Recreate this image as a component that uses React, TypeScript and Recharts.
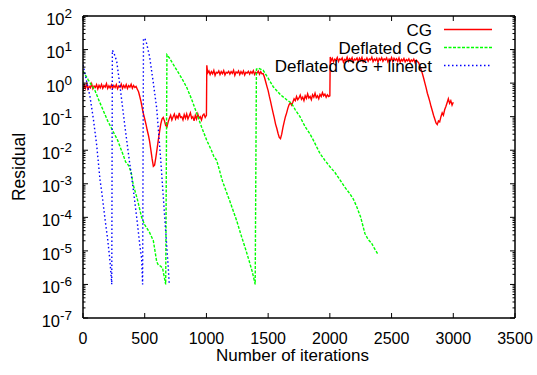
import React from 'react';
import { LineChart, Line, XAxis, YAxis, Legend } from 'recharts';

const FONT = '"Liberation Sans", Arial, Helvetica, sans-serif';

const xTicks = [0, 500, 1000, 1500, 2000, 2500, 3000, 3500];
const yMajorExponents = [-7, -6, -5, -4, -3, -2, -1, 0, 1, 2];
const yMinorMultipliers = [2, 3, 4, 5, 6, 7, 8, 9];

const seriesNames = ['CG', 'Deflated CG', 'Deflated CG + linelet'];
const seriesColors = ['#ff0000', '#00ff00', '#0000ff'];
const seriesDashes = ['', '3 1.5', '1.5 2.5'];

type Run = { start: number; step: number; values: number[] };

// CG (red): runs of residuals sampled every 10 iterations, plus the jump points
const cgRun1: Run = {
  start: 0, step: 10, values: [
    0.62, 0.88, 0.7, 0.93, 0.66, 0.8, 0.72, 0.95, 0.68, 0.82,
    0.74, 0.9, 0.67, 0.86, 0.73, 0.92, 0.7, 0.84, 0.76, 0.96,
    0.69, 0.83, 0.72, 0.88, 0.7, 0.85, 0.74, 0.9, 0.68, 0.82,
    0.75, 0.93, 0.7, 0.86, 0.73, 0.9, 0.69, 0.84, 0.76, 0.92,
    0.7, 0.85, 0.74, 0.8, 0.66,
  ],
};
const cgRun2: Run = {
  start: 450, step: 10, values: [
    0.55, 0.4, 0.28, 0.18, 0.12,
    0.085, 0.06, 0.04, 0.028, 0.018, 0.01, 0.0055, 0.0033, 0.0036, 0.006,
    0.011, 0.02, 0.035, 0.06, 0.085, 0.095, 0.075, 0.055, 0.05, 0.07,
    0.09, 0.11, 0.08, 0.1, 0.12, 0.085, 0.105, 0.09, 0.13, 0.095,
    0.1, 0.08, 0.115, 0.09, 0.12, 0.085, 0.105, 0.13, 0.09, 0.1,
    0.075, 0.11, 0.085, 0.12, 0.09, 0.1, 0.08, 0.11, 0.12, 0.095,
  ],
};
const cgJump1: [number, number][] = [[1000, 0.11], [1003, 3.4]];
const cgRun3: Run = {
  start: 1010, step: 10, values: [
    2.0, 2.3, 1.8, 2.2, 1.9, 2.4, 1.7, 2.1, 2.0, 2.3,
    1.8, 2.2, 1.9, 2.35, 1.75, 2.1, 2.0, 2.25, 1.85, 2.2,
    1.95, 2.4, 1.7, 2.15, 2.0, 2.3, 1.8, 2.2, 1.9, 2.3,
    1.75, 2.1, 2.0, 2.25, 1.85, 2.2, 1.95, 2.35, 1.8, 2.1,
    2.0, 2.3, 1.85, 2.2, 1.9,
  ],
};
const cgRun4: Run = {
  start: 1460, step: 10, values: [
    1.9, 1.5, 1.1, 0.8, 0.6, 0.4, 0.28, 0.19, 0.13, 0.09,
    0.06, 0.045, 0.032, 0.024, 0.022, 0.03, 0.048, 0.07, 0.1, 0.13,
    0.18, 0.23, 0.26, 0.22, 0.27, 0.34, 0.3, 0.4, 0.32, 0.36,
    0.44, 0.33, 0.38, 0.3, 0.42, 0.35, 0.48, 0.36, 0.4, 0.32,
    0.45, 0.38, 0.5, 0.37, 0.42, 0.34, 0.46, 0.4, 0.52, 0.42,
    0.47, 0.38, 0.45, 0.4,
  ],
};
const cgJump2: [number, number][] = [[2000, 0.42], [2003, 6.0]];
const cgRun5: Run = {
  start: 2010, step: 10, values: [
    4.6, 5.5, 4.3, 5.2, 4.8, 5.8, 4.4, 5.3, 4.9, 5.6,
    4.2, 5.1, 4.7, 5.9, 4.5, 5.4, 4.8, 5.7, 4.3, 5.2,
    4.9, 5.6, 4.4, 5.5, 4.7, 5.8, 4.3, 5.1, 4.8, 5.6,
    4.5, 5.3, 4.9, 5.9, 4.4, 5.2, 4.7, 5.5, 4.2, 5.4,
    4.8, 5.7, 4.5, 5.3, 4.9, 5.6, 4.3, 5.2, 4.7, 5.8,
    4.4, 5.5, 4.8, 5.3, 4.5, 5.6, 4.2, 5.1, 4.6, 5.4,
    4.3, 5.0, 4.6, 5.3, 4.2, 4.9, 4.5, 5.2, 4.1, 4.8, 4.4,
  ],
};
const cgRun6: Run = {
  start: 2720, step: 10, values: [
    4.0, 3.2, 2.5, 1.9, 1.4, 1.0, 0.72, 0.5, 0.38, 0.28,
    0.2, 0.15, 0.11, 0.085, 0.065, 0.058, 0.075, 0.07, 0.1, 0.13,
    0.11, 0.16, 0.2, 0.26, 0.34, 0.25, 0.3, 0.22, 0.27,
  ],
};

// Deflated CG (green)
const deflatedPoints: [number, number][] = [
  [0, 2.3], [40, 1.3], [97, 0.6], [130, 0.3], [165, 0.15], [200, 0.075], [246, 0.035],
  [280, 0.02], [327, 0.007], [345, 0.0045], [370, 0.0035], [390, 0.0022], [408, 0.0009],
  [440, 0.00035], [475, 0.0001], [500, 0.00006], [540, 0.000035], [570, 0.00002],
  [597, 0.0000048], [610, 0.0000038], [630, 0.0000035], [645, 0.000003], [670, 0.000001],
  [680, 7], [700, 5.6], [740, 3.2], [800, 1.4], [840, 0.75], [880, 0.33], [920, 0.13],
  [960, 0.05], [1002, 0.02], [1040, 0.01], [1060, 0.0065], [1083, 0.005], [1100, 0.003],
  [1130, 0.0012], [1160, 0.0006], [1190, 0.0003], [1245, 0.00008], [1280, 0.00003],
  [1312, 0.000013], [1340, 0.000006], [1370, 0.0000025], [1395, 0.000001],
  [1405, 2.6], [1420, 2.8], [1460, 2.4], [1500, 1.4], [1541, 0.78], [1600, 0.45],
  [1650, 0.32], [1690, 0.25], [1720, 0.16], [1758, 0.1], [1800, 0.05], [1840, 0.03],
  [1866, 0.02], [1920, 0.008], [1960, 0.005], [2001, 0.0032], [2040, 0.0022],
  [2082, 0.0013], [2120, 0.0008], [2163, 0.0005], [2190, 0.00035], [2217, 0.00021],
  [2250, 0.0001], [2284, 0.000033], [2310, 0.000022], [2338, 0.000017], [2360, 0.000012],
  [2392, 0.0000076],
];

// Deflated CG + linelet (blue)
const lineletPoints: [number, number][] = [
  [0, 3.5], [15, 2.0], [30, 1.1], [57, 0.39], [85, 0.08], [111, 0.014], [138, 0.0013],
  [151, 0.0006], [180, 0.00008], [200, 0.000022], [219, 0.0000048], [233, 0.000001],
  [238, 9.5], [250, 8], [273, 4.5], [300, 0.8], [340, 0.05], [370, 0.007], [408, 0.00065],
  [440, 0.00007], [462, 0.000013], [475, 0.000006], [483, 0.000001],
  [490, 20], [500, 22], [516, 15], [540, 6], [570, 1.0], [597, 0.18], [630, 0.005],
  [664, 0.00008], [690, 0.0000035], [699, 0.000001],
];

const runToPoints = (r: Run) => r.values.map((v, i) => ({ x: r.start + i * r.step, y: v }));
const pairsToPoints = (p: [number, number][]) => p.map(([x, y]) => ({ x, y }));

const cgData = [
  ...runToPoints(cgRun1),
  ...runToPoints(cgRun2),
  ...pairsToPoints(cgJump1),
  ...runToPoints(cgRun3),
  ...runToPoints(cgRun4),
  ...pairsToPoints(cgJump2),
  ...runToPoints(cgRun5),
  ...runToPoints(cgRun6),
];
const deflatedData = pairsToPoints(deflatedPoints);
const lineletData = pairsToPoints(lineletPoints);

const yTicks: number[] = [];
yMajorExponents.forEach((e) => {
  yTicks.push(Math.pow(10, e));
  if (e < 2) yMinorMultipliers.forEach((m) => yTicks.push(m * Math.pow(10, e)));
});

const isMajor = (v: number) => {
  const l = Math.log10(v);
  return Math.abs(l - Math.round(l)) < 1e-6;
};

const BottomTick = (p: any) => (
  <g>
    <line x1={p.x} x2={p.x} y1={p.y} y2={p.y - 5} stroke="#000" strokeWidth={1} />
    <text x={p.x} y={p.y + 25.5} textAnchor="middle" fontSize={16} fontFamily={FONT} fill="#000">
      {p.payload.value}
    </text>
  </g>
);
const TopTick = (p: any) => (
  <line x1={p.x} x2={p.x} y1={p.y} y2={p.y + 5} stroke="#000" strokeWidth={1} />
);
const LeftTick = (p: any) => {
  const v = p.payload.value;
  const major = isMajor(v);
  return (
    <g>
      <line x1={p.x} x2={p.x + (major ? 5 : 2.5)} y1={p.y} y2={p.y} stroke="#000" strokeWidth={1} />
      {major && (
        <text x={p.x - 11} y={p.y + 8.7} textAnchor="end" fontSize={16.5} fontFamily={FONT} fill="#000">
          10
          <tspan dy={-7} fontSize={13.5}>{String(Math.round(Math.log10(v)))}</tspan>
        </text>
      )}
    </g>
  );
};
const RightTick = (p: any) => {
  const major = isMajor(p.payload.value);
  return <line x1={p.x} x2={p.x - (major ? 5 : 2.5)} y1={p.y} y2={p.y} stroke="#000" strokeWidth={1} />;
};

const renderLegend = () => (
  <svg width={537} height={375} style={{ position: 'absolute', left: 0, top: 0 }}>
    {seriesNames.map((name, i) => (
      <g key={name}>
        <text x={432} y={36 + i * 18} textAnchor="end" fontSize={17} fontFamily={FONT} fill="#000">
          {name}
        </text>
        <line
          x1={444}
          x2={492}
          y1={29.5 + i * 18}
          y2={29.5 + i * 18}
          stroke={seriesColors[i]}
          strokeWidth={1.4}
          strokeDasharray={seriesDashes[i] || undefined}
        />
      </g>
    ))}
  </svg>
);

const axisLine = { stroke: '#000', strokeWidth: 1.5 };

export default function App() {
  const datasets = [cgData, deflatedData, lineletData];
  return (
    <div style={{ position: 'absolute', left: 0, top: 0, width: 537, height: 375, background: '#fff' }}>
      <LineChart width={537} height={375} margin={{ top: 15, right: 21, bottom: 56, left: 82 }}>
        <XAxis
          xAxisId={0}
          type="number"
          dataKey="x"
          domain={[0, 3500]}
          ticks={xTicks}
          interval={0}
          height={1}
          tickSize={0}
          tickMargin={0}
          tickLine={false}
          axisLine={axisLine}
          tick={BottomTick}
          allowDataOverflow
          label={(props: any) => {
            const vb = props.viewBox || { x: 83, y: 318, width: 432 };
            return (
              <text x={vb.x + vb.width / 2 - 6.5} y={vb.y + 43} textAnchor="middle" fontSize={17} fontFamily={FONT} fill="#000">
                Number of iterations
              </text>
            );
          }}
        />
        <XAxis
          xAxisId="top"
          orientation="top"
          type="number"
          dataKey="x"
          domain={[0, 3500]}
          ticks={xTicks}
          interval={0}
          height={1}
          tickSize={0}
          tickMargin={0}
          tickLine={false}
          axisLine={axisLine}
          tick={TopTick}
          allowDataOverflow
        />
        <YAxis
          yAxisId={0}
          scale="log"
          type="number"
          domain={[1e-7, 100]}
          ticks={yTicks}
          interval={0}
          width={1}
          tickSize={0}
          tickMargin={0}
          tickLine={false}
          axisLine={axisLine}
          tick={LeftTick}
          allowDataOverflow
          label={(props: any) => {
            const vb = props.viewBox || { x: 82, y: 16, height: 302 };
            const cx = vb.x + vb.width - 58;
            const cy = vb.y + vb.height / 2;
            return (
              <text x={cx} y={cy} transform={`rotate(-90 ${cx} ${cy})`} textAnchor="middle" fontSize={17.5} fontFamily={FONT} fill="#000">
                Residual
              </text>
            );
          }}
        />
        <YAxis
          yAxisId="right"
          orientation="right"
          scale="log"
          type="number"
          domain={[1e-7, 100]}
          ticks={yTicks}
          interval={0}
          width={1}
          tickSize={0}
          tickMargin={0}
          tickLine={false}
          axisLine={axisLine}
          tick={RightTick}
          allowDataOverflow
        />
        {datasets.map((d, i) => (
          <Line
            key={seriesNames[i]}
            name={seriesNames[i]}
            data={d}
            dataKey="y"
            xAxisId={0}
            yAxisId={0}
            type="linear"
            stroke={seriesColors[i]}
            strokeWidth={1.4}
            strokeDasharray={seriesDashes[i] || undefined}
            dot={false}
            activeDot={false}
            isAnimationActive={false}
          />
        ))}
        <Legend
          layout="vertical"
          align="center"
          verticalAlign="middle"
          content={renderLegend}
          wrapperStyle={{ position: 'absolute', left: 0, top: 0, width: 537, height: 375, pointerEvents: 'none' }}
        />
      </LineChart>
    </div>
  );
}
